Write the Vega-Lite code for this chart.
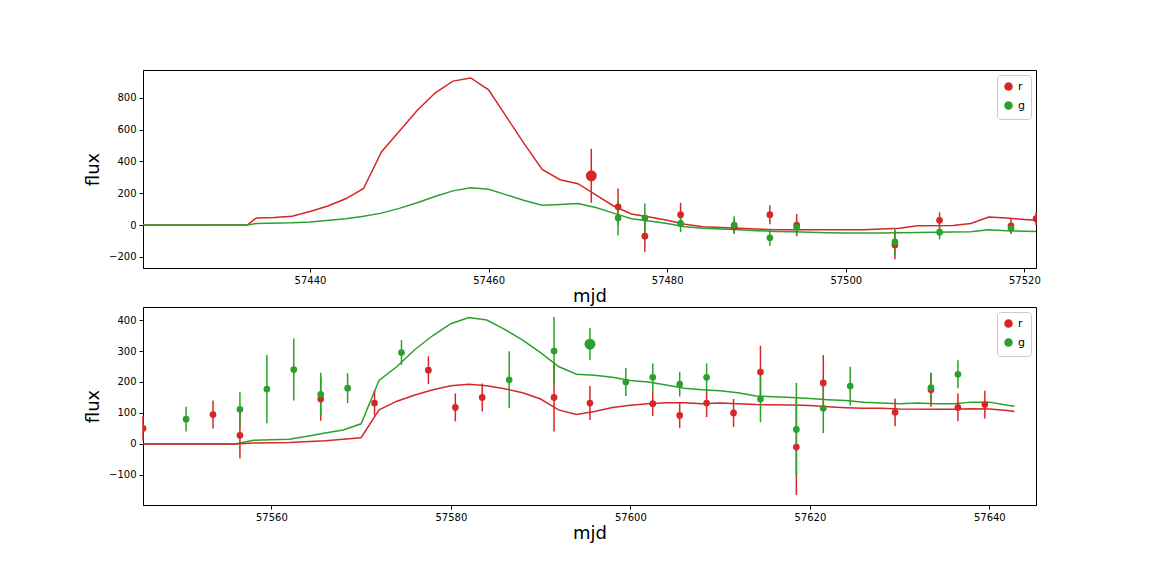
{
  "$schema": "https://vega.github.io/schema/vega-lite/v6.json",
  "padding": {"left": 84, "top": 69, "right": 0, "bottom": 0},
  "background": "white",
  "config": {
    "font": "DejaVu Sans",
    "view": {"stroke": "black", "strokeWidth": 1},
    "axis": {"grid": false, "domainColor": "black", "tickColor": "black", "labelColor": "black", "titleColor": "black", "labelFontSize": 10, "titleFontSize": 18, "titleFontWeight": "normal", "tickSize": 4, "labelPadding": 3},
    "legend": {"orient": "top-right", "strokeColor": "#cccccc", "fillColor": "white", "padding": 6, "cornerRadius": 3, "labelFontSize": 11, "offset": 5, "symbolType": "circle", "symbolSize": 50, "rowPadding": 4}
  },
  "datasets": {
    "lines1": [
      {"mjd": 57421.3, "flux": 0, "band": "r"}, {"mjd": 57433, "flux": 2, "band": "r"}, {"mjd": 57434, "flux": 45, "band": "r"}, {"mjd": 57436, "flux": 48, "band": "r"}, {"mjd": 57438, "flux": 55, "band": "r"}, {"mjd": 57440, "flux": 85, "band": "r"}, {"mjd": 57442, "flux": 120, "band": "r"}, {"mjd": 57444, "flux": 165, "band": "r"}, {"mjd": 57446, "flux": 230, "band": "r"}, {"mjd": 57448, "flux": 460, "band": "r"}, {"mjd": 57450, "flux": 590, "band": "r"}, {"mjd": 57452, "flux": 720, "band": "r"}, {"mjd": 57454, "flux": 830, "band": "r"}, {"mjd": 57456, "flux": 905, "band": "r"}, {"mjd": 57458, "flux": 925, "band": "r"}, {"mjd": 57460, "flux": 850, "band": "r"}, {"mjd": 57462, "flux": 680, "band": "r"}, {"mjd": 57464, "flux": 510, "band": "r"}, {"mjd": 57466, "flux": 350, "band": "r"}, {"mjd": 57468, "flux": 285, "band": "r"}, {"mjd": 57470, "flux": 260, "band": "r"}, {"mjd": 57472, "flux": 190, "band": "r"}, {"mjd": 57474, "flux": 120, "band": "r"}, {"mjd": 57476, "flux": 70, "band": "r"}, {"mjd": 57478, "flux": 50, "band": "r"}, {"mjd": 57480, "flux": 30, "band": "r"}, {"mjd": 57482, "flux": 5, "band": "r"}, {"mjd": 57484, "flux": -10, "band": "r"}, {"mjd": 57486, "flux": -15, "band": "r"}, {"mjd": 57488, "flux": -20, "band": "r"}, {"mjd": 57490, "flux": -25, "band": "r"}, {"mjd": 57492, "flux": -30, "band": "r"}, {"mjd": 57496, "flux": -30, "band": "r"}, {"mjd": 57502, "flux": -30, "band": "r"}, {"mjd": 57504, "flux": -25, "band": "r"}, {"mjd": 57506, "flux": -20, "band": "r"}, {"mjd": 57508, "flux": -5, "band": "r"}, {"mjd": 57512, "flux": -3, "band": "r"}, {"mjd": 57514, "flux": 10, "band": "r"}, {"mjd": 57516, "flux": 50, "band": "r"}, {"mjd": 57518, "flux": 45, "band": "r"}, {"mjd": 57520, "flux": 35, "band": "r"}, {"mjd": 57521.3, "flux": 30, "band": "r"},
      {"mjd": 57421.3, "flux": 0, "band": "g"}, {"mjd": 57433, "flux": 0, "band": "g"}, {"mjd": 57434, "flux": 10, "band": "g"}, {"mjd": 57438, "flux": 15, "band": "g"}, {"mjd": 57440, "flux": 20, "band": "g"}, {"mjd": 57444, "flux": 40, "band": "g"}, {"mjd": 57446, "flux": 55, "band": "g"}, {"mjd": 57448, "flux": 75, "band": "g"}, {"mjd": 57450, "flux": 105, "band": "g"}, {"mjd": 57452, "flux": 140, "band": "g"}, {"mjd": 57454, "flux": 180, "band": "g"}, {"mjd": 57456, "flux": 215, "band": "g"}, {"mjd": 57458, "flux": 235, "band": "g"}, {"mjd": 57460, "flux": 225, "band": "g"}, {"mjd": 57462, "flux": 190, "band": "g"}, {"mjd": 57464, "flux": 155, "band": "g"}, {"mjd": 57466, "flux": 125, "band": "g"}, {"mjd": 57468, "flux": 130, "band": "g"}, {"mjd": 57470, "flux": 135, "band": "g"}, {"mjd": 57472, "flux": 110, "band": "g"}, {"mjd": 57474, "flux": 75, "band": "g"}, {"mjd": 57476, "flux": 40, "band": "g"}, {"mjd": 57478, "flux": 25, "band": "g"}, {"mjd": 57480, "flux": 10, "band": "g"}, {"mjd": 57482, "flux": -10, "band": "g"}, {"mjd": 57484, "flux": -20, "band": "g"}, {"mjd": 57486, "flux": -25, "band": "g"}, {"mjd": 57488, "flux": -30, "band": "g"}, {"mjd": 57490, "flux": -35, "band": "g"}, {"mjd": 57492, "flux": -40, "band": "g"}, {"mjd": 57494, "flux": -42, "band": "g"}, {"mjd": 57496, "flux": -45, "band": "g"}, {"mjd": 57498, "flux": -48, "band": "g"}, {"mjd": 57500, "flux": -50, "band": "g"}, {"mjd": 57504, "flux": -50, "band": "g"}, {"mjd": 57506, "flux": -48, "band": "g"}, {"mjd": 57510, "flux": -45, "band": "g"}, {"mjd": 57514, "flux": -42, "band": "g"}, {"mjd": 57516, "flux": -30, "band": "g"}, {"mjd": 57518, "flux": -35, "band": "g"}, {"mjd": 57521.3, "flux": -40, "band": "g"}
    ],
    "obs1": [
      {"mjd": 57471.5, "flux": 310, "err": 170, "band": "r", "peak": "yes"},
      {"mjd": 57474.5, "flux": 115, "err": 115, "band": "r", "peak": "no"},
      {"mjd": 57477.5, "flux": -70, "err": 100, "band": "r", "peak": "no"},
      {"mjd": 57481.5, "flux": 65, "err": 75, "band": "r", "peak": "no"},
      {"mjd": 57487.5, "flux": -10, "err": 45, "band": "r", "peak": "no"},
      {"mjd": 57491.5, "flux": 65, "err": 60, "band": "r", "peak": "no"},
      {"mjd": 57494.5, "flux": 0, "err": 70, "band": "r", "peak": "no"},
      {"mjd": 57505.5, "flux": -125, "err": 90, "band": "r", "peak": "no"},
      {"mjd": 57510.5, "flux": 30, "err": 50, "band": "r", "peak": "no"},
      {"mjd": 57518.5, "flux": -5, "err": 50, "band": "r", "peak": "no"},
      {"mjd": 57521.3, "flux": 40, "err": 40, "band": "r", "peak": "no"},
      {"mjd": 57474.5, "flux": 45, "err": 110, "band": "g", "peak": "no"},
      {"mjd": 57477.5, "flux": 45, "err": 90, "band": "g", "peak": "no"},
      {"mjd": 57481.5, "flux": 10, "err": 55, "band": "g", "peak": "no"},
      {"mjd": 57487.5, "flux": 0, "err": 55, "band": "g", "peak": "no"},
      {"mjd": 57491.5, "flux": -80, "err": 50, "band": "g", "peak": "no"},
      {"mjd": 57494.5, "flux": -15, "err": 45, "band": "g", "peak": "no"},
      {"mjd": 57505.5, "flux": -105, "err": 85, "band": "g", "peak": "no"},
      {"mjd": 57510.5, "flux": -45, "err": 45, "band": "g", "peak": "no"},
      {"mjd": 57518.5, "flux": -20, "err": 35, "band": "g", "peak": "no"}
    ],
    "lines2": [
      {"mjd": 57545.7, "flux": 0, "band": "g"}, {"mjd": 57556, "flux": 0, "band": "g"}, {"mjd": 57558, "flux": 12, "band": "g"}, {"mjd": 57562, "flux": 15, "band": "g"}, {"mjd": 57564, "flux": 25, "band": "g"}, {"mjd": 57566, "flux": 35, "band": "g"}, {"mjd": 57568, "flux": 45, "band": "g"}, {"mjd": 57570, "flux": 65, "band": "g"}, {"mjd": 57572, "flux": 205, "band": "g"}, {"mjd": 57574, "flux": 250, "band": "g"}, {"mjd": 57576, "flux": 305, "band": "g"}, {"mjd": 57578, "flux": 350, "band": "g"}, {"mjd": 57580, "flux": 388, "band": "g"}, {"mjd": 57582, "flux": 408, "band": "g"}, {"mjd": 57584, "flux": 400, "band": "g"}, {"mjd": 57586, "flux": 370, "band": "g"}, {"mjd": 57588, "flux": 335, "band": "g"}, {"mjd": 57590, "flux": 295, "band": "g"}, {"mjd": 57592, "flux": 250, "band": "g"}, {"mjd": 57594, "flux": 225, "band": "g"}, {"mjd": 57596, "flux": 222, "band": "g"}, {"mjd": 57598, "flux": 215, "band": "g"}, {"mjd": 57600, "flux": 205, "band": "g"}, {"mjd": 57602, "flux": 200, "band": "g"}, {"mjd": 57604, "flux": 190, "band": "g"}, {"mjd": 57606, "flux": 180, "band": "g"}, {"mjd": 57608, "flux": 175, "band": "g"}, {"mjd": 57610, "flux": 172, "band": "g"}, {"mjd": 57612, "flux": 165, "band": "g"}, {"mjd": 57614, "flux": 155, "band": "g"}, {"mjd": 57616, "flux": 152, "band": "g"}, {"mjd": 57618, "flux": 150, "band": "g"}, {"mjd": 57620, "flux": 147, "band": "g"}, {"mjd": 57622, "flux": 143, "band": "g"}, {"mjd": 57624, "flux": 140, "band": "g"}, {"mjd": 57626, "flux": 135, "band": "g"}, {"mjd": 57628, "flux": 132, "band": "g"}, {"mjd": 57630, "flux": 130, "band": "g"}, {"mjd": 57632, "flux": 132, "band": "g"}, {"mjd": 57634, "flux": 130, "band": "g"}, {"mjd": 57636, "flux": 130, "band": "g"}, {"mjd": 57638, "flux": 135, "band": "g"}, {"mjd": 57640, "flux": 135, "band": "g"}, {"mjd": 57642, "flux": 125, "band": "g"}, {"mjd": 57642.8, "flux": 122, "band": "g"},
      {"mjd": 57545.7, "flux": 0, "band": "r"}, {"mjd": 57556, "flux": 0, "band": "r"}, {"mjd": 57558, "flux": 3, "band": "r"}, {"mjd": 57562, "flux": 5, "band": "r"}, {"mjd": 57566, "flux": 10, "band": "r"}, {"mjd": 57570, "flux": 20, "band": "r"}, {"mjd": 57572, "flux": 110, "band": "r"}, {"mjd": 57574, "flux": 138, "band": "r"}, {"mjd": 57576, "flux": 158, "band": "r"}, {"mjd": 57578, "flux": 175, "band": "r"}, {"mjd": 57580, "flux": 188, "band": "r"}, {"mjd": 57582, "flux": 193, "band": "r"}, {"mjd": 57584, "flux": 188, "band": "r"}, {"mjd": 57586, "flux": 178, "band": "r"}, {"mjd": 57588, "flux": 165, "band": "r"}, {"mjd": 57590, "flux": 145, "band": "r"}, {"mjd": 57592, "flux": 110, "band": "r"}, {"mjd": 57594, "flux": 95, "band": "r"}, {"mjd": 57596, "flux": 105, "band": "r"}, {"mjd": 57598, "flux": 118, "band": "r"}, {"mjd": 57600, "flux": 125, "band": "r"}, {"mjd": 57602, "flux": 130, "band": "r"}, {"mjd": 57604, "flux": 133, "band": "r"}, {"mjd": 57606, "flux": 133, "band": "r"}, {"mjd": 57608, "flux": 130, "band": "r"}, {"mjd": 57610, "flux": 132, "band": "r"}, {"mjd": 57612, "flux": 130, "band": "r"}, {"mjd": 57614, "flux": 127, "band": "r"}, {"mjd": 57618, "flux": 126, "band": "r"}, {"mjd": 57620, "flux": 124, "band": "r"}, {"mjd": 57622, "flux": 120, "band": "r"}, {"mjd": 57624, "flux": 117, "band": "r"}, {"mjd": 57626, "flux": 115, "band": "r"}, {"mjd": 57628, "flux": 115, "band": "r"}, {"mjd": 57630, "flux": 113, "band": "r"}, {"mjd": 57634, "flux": 112, "band": "r"}, {"mjd": 57636, "flux": 112, "band": "r"}, {"mjd": 57638, "flux": 114, "band": "r"}, {"mjd": 57640, "flux": 113, "band": "r"}, {"mjd": 57642, "flux": 108, "band": "r"}, {"mjd": 57642.8, "flux": 105, "band": "r"}
    ],
    "obs2": [
      {"mjd": 57545.7, "flux": 50, "err": 40, "band": "r", "peak": "no"},
      {"mjd": 57553.5, "flux": 95, "err": 45, "band": "r", "peak": "no"},
      {"mjd": 57556.5, "flux": 28, "err": 75, "band": "r", "peak": "no"},
      {"mjd": 57565.5, "flux": 145, "err": 70, "band": "r", "peak": "no"},
      {"mjd": 57571.5, "flux": 132, "err": 40, "band": "r", "peak": "no"},
      {"mjd": 57577.5, "flux": 238, "err": 45, "band": "r", "peak": "no"},
      {"mjd": 57580.5, "flux": 118, "err": 45, "band": "r", "peak": "no"},
      {"mjd": 57583.5, "flux": 150, "err": 45, "band": "r", "peak": "no"},
      {"mjd": 57591.5, "flux": 150, "err": 110, "band": "r", "peak": "no"},
      {"mjd": 57595.5, "flux": 132, "err": 55, "band": "r", "peak": "no"},
      {"mjd": 57602.5, "flux": 130, "err": 40, "band": "r", "peak": "no"},
      {"mjd": 57605.5, "flux": 92, "err": 40, "band": "r", "peak": "no"},
      {"mjd": 57608.5, "flux": 132, "err": 45, "band": "r", "peak": "no"},
      {"mjd": 57611.5, "flux": 100, "err": 45, "band": "r", "peak": "no"},
      {"mjd": 57614.5, "flux": 232, "err": 85, "band": "r", "peak": "no"},
      {"mjd": 57618.5, "flux": -10, "err": 155, "band": "r", "peak": "no"},
      {"mjd": 57621.5, "flux": 197, "err": 90, "band": "r", "peak": "no"},
      {"mjd": 57629.5, "flux": 102, "err": 45, "band": "r", "peak": "no"},
      {"mjd": 57633.5, "flux": 175, "err": 55, "band": "r", "peak": "no"},
      {"mjd": 57636.5, "flux": 118, "err": 45, "band": "r", "peak": "no"},
      {"mjd": 57639.5, "flux": 127, "err": 45, "band": "r", "peak": "no"},
      {"mjd": 57550.5, "flux": 80, "err": 40, "band": "g", "peak": "no"},
      {"mjd": 57556.5, "flux": 112, "err": 55, "band": "g", "peak": "no"},
      {"mjd": 57559.5, "flux": 177, "err": 110, "band": "g", "peak": "no"},
      {"mjd": 57562.5, "flux": 240, "err": 100, "band": "g", "peak": "no"},
      {"mjd": 57565.5, "flux": 160, "err": 70, "band": "g", "peak": "no"},
      {"mjd": 57568.5, "flux": 180, "err": 48, "band": "g", "peak": "no"},
      {"mjd": 57574.5, "flux": 295, "err": 40, "band": "g", "peak": "no"},
      {"mjd": 57586.5, "flux": 207, "err": 92, "band": "g", "peak": "no"},
      {"mjd": 57591.5, "flux": 300, "err": 110, "band": "g", "peak": "no"},
      {"mjd": 57595.5, "flux": 322, "err": 52, "band": "g", "peak": "yes"},
      {"mjd": 57599.5, "flux": 200, "err": 45, "band": "g", "peak": "no"},
      {"mjd": 57602.5, "flux": 215, "err": 45, "band": "g", "peak": "no"},
      {"mjd": 57605.5, "flux": 193, "err": 40, "band": "g", "peak": "no"},
      {"mjd": 57608.5, "flux": 215, "err": 45, "band": "g", "peak": "no"},
      {"mjd": 57614.5, "flux": 145, "err": 75, "band": "g", "peak": "no"},
      {"mjd": 57618.5, "flux": 47, "err": 150, "band": "g", "peak": "no"},
      {"mjd": 57621.5, "flux": 115, "err": 80, "band": "g", "peak": "no"},
      {"mjd": 57624.5, "flux": 187, "err": 62, "band": "g", "peak": "no"},
      {"mjd": 57633.5, "flux": 182, "err": 45, "band": "g", "peak": "no"},
      {"mjd": 57636.5, "flux": 225, "err": 45, "band": "g", "peak": "no"}
    ]
  },
  "bounds": "flush",
  "spacing": 39,
  "resolve": {"scale": {"color": "independent", "x": "independent", "y": "independent", "size": "independent"}, "legend": {"color": "independent"}},
  "vconcat": [
    {
      "width": 893,
      "height": 198,
      "encoding": {
        "x": {"field": "mjd", "type": "quantitative", "title": "mjd", "scale": {"domain": [57421.3, 57521.3], "nice": false, "zero": false}, "axis": {"values": [57440, 57460, 57480, 57500, 57520], "format": "d", "titlePadding": 2}},
        "y": {"field": "flux", "type": "quantitative", "title": "flux", "scale": {"domain": [-270, 975], "nice": false, "zero": false}, "axis": {"values": [-200, 0, 200, 400, 600, 800], "titlePadding": 6}},
        "color": {"field": "band", "type": "nominal", "scale": {"domain": ["r", "g"], "range": ["#d62728", "#2ca02c"]}, "legend": {"title": null}}
      },
      "layer": [
        {"data": {"name": "lines1"}, "mark": {"type": "line", "strokeWidth": 1.5, "clip": true}},
        {"data": {"name": "obs1"}, "mark": {"type": "errorbar", "thickness": 1.5}, "encoding": {"yError": {"field": "err"}}},
        {"data": {"name": "obs1"}, "mark": {"type": "point", "filled": true, "opacity": 1, "clip": true}, "encoding": {"size": {"field": "peak", "type": "nominal", "scale": {"domain": ["no", "yes"], "range": [45, 120]}, "legend": null}}}
      ]
    },
    {
      "width": 893,
      "height": 198,
      "encoding": {
        "x": {"field": "mjd", "type": "quantitative", "title": "mjd", "scale": {"domain": [57545.7, 57645.2], "nice": false, "zero": false}, "axis": {"values": [57560, 57580, 57600, 57620, 57640], "format": "d", "titlePadding": 2}},
        "y": {"field": "flux", "type": "quantitative", "title": "flux", "scale": {"domain": [-197, 442], "nice": false, "zero": false}, "axis": {"values": [-100, 0, 100, 200, 300, 400], "titlePadding": 6}},
        "color": {"field": "band", "type": "nominal", "scale": {"domain": ["r", "g"], "range": ["#d62728", "#2ca02c"]}, "legend": {"title": null}}
      },
      "layer": [
        {"data": {"name": "lines2"}, "mark": {"type": "line", "strokeWidth": 1.5, "clip": true}},
        {"data": {"name": "obs2"}, "mark": {"type": "errorbar", "thickness": 1.5}, "encoding": {"yError": {"field": "err"}}},
        {"data": {"name": "obs2"}, "mark": {"type": "point", "filled": true, "opacity": 1, "clip": true}, "encoding": {"size": {"field": "peak", "type": "nominal", "scale": {"domain": ["no", "yes"], "range": [45, 120]}, "legend": null}}}
      ]
    }
  ]
}
